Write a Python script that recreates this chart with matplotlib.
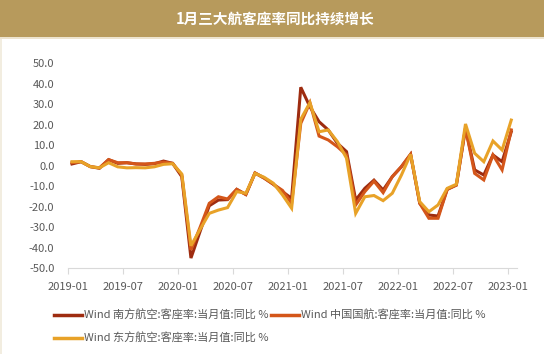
import numpy as np
import matplotlib
matplotlib.use("Agg")
import matplotlib.pyplot as plt
from matplotlib.patches import Rectangle

plt.rcParams['font.family'] = ['Noto Sans CJK SC', 'DejaVu Sans']

# data (monthly, 2019-01 .. 2023-01), yoy change of load factor, %
months = [f"{y}-{m:02d}" for y in range(2019, 2024) for m in range(1, 13)][:49]
tick_labels = ["2019-01", "2019-07", "2020-01", "2020-07", "2021-01",
               "2021-07", "2022-01", "2022-07", "2023-01"]

china_southern = [0.9, 2.0, -0.4, -1.2, 3.0, 1.2, 1.5, 0.9, 0.7, 1.0, 2.3, 1.2,
                  -5.3, -45.0, -32.0, -19.5, -16.7, -16.5, -11.5, -14.0, -3.5, -6.0, -9.0, -12.6,
                  -15.9, 38.3, 28.8, 21.5, 17.5, 11.0, 6.9, -16.7, -11.0, -7.0, -11.8, -5.3,
                  -0.4, 5.6, -18.3, -24.0, -24.5, -11.5, -9.4, 18.3, -2.0, -4.5, 5.3, 2.0,
                  16.6]
air_china = [1.5, 2.0, -0.4, -1.0, 3.0, 1.5, 1.5, 0.9, 0.9, 1.2, 1.8, 1.2,
             -4.5, -41.0, -30.0, -18.3, -15.1, -16.2, -11.5, -14.0, -3.5, -6.0, -9.0, -12.0,
             -18.3, 20.7, 30.8, 14.5, 12.6, 9.3, 5.3, -19.1, -12.6, -7.5, -13.1, -5.3,
             -0.4, 5.6, -18.3, -25.6, -25.6, -11.5, -9.4, 18.3, -3.7, -6.9, 5.3, -2.0,
             17.5]
china_eastern = [2.0, 2.0, -0.4, -1.0, 1.5, -0.5, -1.0, -0.9, -1.0, -0.5, 0.7, 1.0,
                 -4.0, -39.0, -31.0, -23.2, -21.6, -20.4, -12.6, -13.4, -3.7, -5.6, -8.5, -14.2,
                 -20.7, 22.7, 30.8, 16.6, 17.5, 11.8, 3.7, -23.2, -15.1, -14.5, -17.0, -13.4,
                 -4.5, 5.6, -17.5, -22.4, -19.1, -11.0, -9.0, 20.4, 6.1, 2.0, 12.1, 7.7,
                 22.3]

names = ["Wind 南方航空:客座率:当月值:同比 %",
         "Wind 中国国航:客座率:当月值:同比 %",
         "Wind 东方航空:客座率:当月值:同比 %"]
colors = ["#9E2C10", "#D4561A", "#E8A228"]

fig = plt.figure(figsize=(5.44, 3.54), dpi=100)
fig.patch.set_facecolor("white")

# title bar
fig.add_artist(Rectangle((0, 0.895), 1, 0.105, transform=fig.transFigure,
                         facecolor="#B79A5C", edgecolor="none"))
fig.add_artist(Rectangle((0, 0.889), 1, 0.006, transform=fig.transFigure,
                         facecolor="#EDE4CF", edgecolor="none"))
fig.add_artist(Rectangle((0, 0), 0.004, 0.889, transform=fig.transFigure,
                         facecolor="#F2EDE0", edgecolor="none"))
fig.text(0.505, 0.948, "1月三大航客座率同比持续增长", color="white",
         fontsize=10.5, fontweight="bold", ha="center", va="center")

ax = fig.add_axes([0.1256, 0.2421, 0.8243, 0.5791])
x = np.arange(len(months)) + 0.4
lines = []
for vals, name, c in zip([china_southern, air_china, china_eastern], names, colors):
    ln, = ax.plot(x, vals, color=c, lw=2.2, label=name, solid_joinstyle="miter")
    lines.append(ln)

ax.set_xlim(0, 49)
ax.set_ylim(-50, 50)
ax.set_yticks(np.arange(-50, 51, 10))
ax.set_yticklabels([f"{v:.1f}" for v in np.arange(-50, 51, 10)])
ax.set_xticks([months.index(t) for t in tick_labels])
ax.set_xticklabels(tick_labels)

for s in ["top", "right", "left"]:
    ax.spines[s].set_visible(False)
ax.spines["bottom"].set_color("#D9D9D9")
ax.tick_params(axis="y", length=0, pad=10, labelsize=8, colors="#595959")
ax.tick_params(axis="x", length=4, width=0.8, color="#D9D9D9", pad=6,
               labelsize=8, labelcolor="#595959")

# legend filled row by row: (南方, 中国国航) then (东方)
order = [0, 2, 1]
leg = fig.legend([lines[i] for i in order], [names[i] for i in order],
                 loc="upper left", bbox_to_anchor=(0.1, 0.124), ncol=2,
                 frameon=False, fontsize=8, handlelength=2.5, handletextpad=0.2,
                 columnspacing=0.2, labelspacing=1.07, borderaxespad=0, borderpad=0)
for t in leg.get_texts():
    t.set_color("#595959")
for h in leg.get_lines():
    h.set_linewidth(2.5)

fig.savefig("out.png", dpi=100)
